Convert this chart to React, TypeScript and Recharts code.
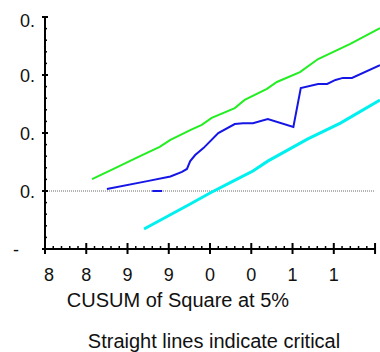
import React from 'react';
import { LineChart, Line, XAxis, YAxis, ReferenceLine } from 'recharts';

// upper 5% critical line
const upperYears = [1985.7, 1988.5, 1991.2, 1993.9, 1995.2, 1997.6, 1999.0, 2000.2, 2003.0, 2004.2, 2006.9, 2008.1, 2010.9, 2013.1, 2017.0, 2020.6];
const upperValues = [0.041, 0.079, 0.116, 0.152, 0.176, 0.21, 0.228, 0.252, 0.286, 0.314, 0.352, 0.376, 0.41, 0.455, 0.507, 0.562];

// CUSUM of squares
const cusumYears = [1987.5, 1992.4, 1995.2, 1996.6, 1997.2, 1997.6, 1998.2, 1999.2, 2001.0, 2003.0, 2004.0, 2005.2, 2007.0, 2010.1, 2011.0, 2013.1, 2014.2, 2015.2, 2016.1, 2017.2, 2020.6];
const cusumValues = [0.007, 0.034, 0.05, 0.066, 0.076, 0.103, 0.124, 0.148, 0.2, 0.231, 0.234, 0.234, 0.248, 0.221, 0.355, 0.369, 0.369, 0.383, 0.39, 0.39, 0.434];

// short stray segment on the zero line
const stubYears = [1993.0, 1994.2];
const stubValues = [0, 0];

// lower 5% critical line
const lowerYears = [1992.0, 1994.8, 1997.6, 2000.0, 2002.8, 2005.2, 2007.0, 2009.4, 2011.8, 2015.8, 2020.6];
const lowerValues = [-0.131, -0.088, -0.045, -0.007, 0.034, 0.069, 0.103, 0.141, 0.179, 0.234, 0.314];

const xMajorTicks = [1980, 1985, 1990, 1995, 2000, 2005, 2010, 2015, 2020];
const xTickLabels = ['8', '8', '9', '9', '0', '0', '1', '1', ''];
const yMajorTicks = [-0.2, 0, 0.2, 0.4, 0.6];
const yTickLabels = ['-', '0.', '0.', '0.', '0.'];

const xDomain = [1980, 2020.6];
const yDomain = [-0.2, 0.6];

const toPoints = (xs: number[], ys: number[]) => xs.map((x, i) => ({ x, y: ys[i] }));

const xTicks: number[] = [];
for (let yr = 1980; yr <= 2020; yr++) xTicks.push(yr);
const yTicks: number[] = [];
for (let i = 0; i <= 20; i++) yTicks.push(Math.round((-0.2 + i * 0.04) * 1000) / 1000);

const font = 'Liberation Sans, Arial, sans-serif';

const XTick = (props: any) => {
  const { x, y, payload } = props;
  const idx = xMajorTicks.indexOf(payload.value);
  if (idx < 0) {
    return (
      <g>
        <line x1={x} x2={x} y1={y - 3} y2={y + 1} stroke="#000" strokeWidth={1.5} />
      </g>
    );
  }
  return (
    <g>
      <line x1={x} x2={x} y1={y - 6} y2={y + 5} stroke="#000" strokeWidth={2} />
      <text x={x + (idx === 0 ? 4 : 0)} y={y + 32} textAnchor="middle" fontSize={18} fontFamily={font} fill="#111">
        {xTickLabels[idx]}
      </text>
    </g>
  );
};

const YTick = (props: any) => {
  const { x, y, payload } = props;
  const idx = yMajorTicks.findIndex((v) => Math.abs(v - payload.value) < 1e-6);
  if (idx < 0) {
    return (
      <g>
        <line x1={x - 1} x2={x + 2} y1={y} y2={y} stroke="#000" strokeWidth={1.5} />
      </g>
    );
  }
  const label = yTickLabels[idx];
  return (
    <g>
      <line x1={x - 3} x2={x + 3} y1={y} y2={y} stroke="#000" strokeWidth={2} />
      <text
        x={label === '-' ? x - 26 : x - 10}
        y={y + (idx === yMajorTicks.length - 1 ? 10 : 7)}
        textAnchor="end"
        fontSize={18}
        fontFamily={font}
        fill="#111"
      >
        {label}
      </text>
    </g>
  );
};

const noteStyle: React.CSSProperties = {
  position: 'absolute',
  width: 300,
  textAlign: 'center',
  whiteSpace: 'nowrap',
  fontFamily: font,
  fontSize: 20,
  lineHeight: '20px',
  color: '#111',
};

export default function App() {
  return (
    <div style={{ position: 'absolute', left: 0, top: 0 }}>
      {/* frame: axes, ticks, zero line */}
      <LineChart width={380} height={352} margin={{ top: 17, right: 0, left: 0, bottom: 73 }}>
        <XAxis
          type="number"
          dataKey="x"
          domain={xDomain}
          ticks={xTicks}
          interval={0}
          tick={<XTick />}
          tickLine={false}
          tickSize={0}
          tickMargin={0}
          axisLine={false}
          height={30}
        />
        <YAxis
          type="number"
          dataKey="y"
          domain={yDomain}
          ticks={yTicks}
          interval={0}
          tick={<YTick />}
          tickLine={false}
          tickSize={0}
          tickMargin={0}
          axisLine={false}
          width={45}
        />
        <ReferenceLine segment={[{ x: 1980, y: -0.2 }, { x: 2020, y: -0.2 }]} stroke="#000" strokeWidth={2} />
        <ReferenceLine segment={[{ x: 1980, y: -0.2 }, { x: 1980, y: 0.6 }]} stroke="#000" strokeWidth={2} />
        <ReferenceLine
          segment={[{ x: 1980, y: 0 }, { x: 2020, y: 0 }]}
          stroke="#444"
          strokeWidth={0.8}
          strokeDasharray="1 1"
        />
        <Line data={toPoints(stubYears, stubValues)} dataKey="y" stroke="#1515e6" strokeWidth={2} dot={false} isAnimationActive={false} />
      </LineChart>
      {/* series */}
      <div style={{ position: 'absolute', left: 0, top: 0, pointerEvents: 'none' }}>
        <LineChart width={380} height={352} margin={{ top: 17, right: 0, left: 45, bottom: 103 }}>
          <XAxis type="number" dataKey="x" domain={xDomain} hide />
          <YAxis type="number" dataKey="y" domain={yDomain} hide />
          <Line data={toPoints(upperYears, upperValues)} dataKey="y" stroke="#22ee22" strokeWidth={2} dot={false} isAnimationActive={false} />
          <Line data={toPoints(cusumYears, cusumValues)} dataKey="y" stroke="#1515e6" strokeWidth={2} dot={false} isAnimationActive={false} />
          <Line data={toPoints(lowerYears, lowerValues)} dataKey="y" stroke="#00f0f0" strokeWidth={3} dot={false} isAnimationActive={false} />
        </LineChart>
      </div>
      <div style={{ ...noteStyle, left: 28, top: 290 }}>CUSUM of Square at 5%</div>
      <div style={{ ...noteStyle, left: 64, top: 331 }}>Straight lines indicate critical</div>
    </div>
  );
}
